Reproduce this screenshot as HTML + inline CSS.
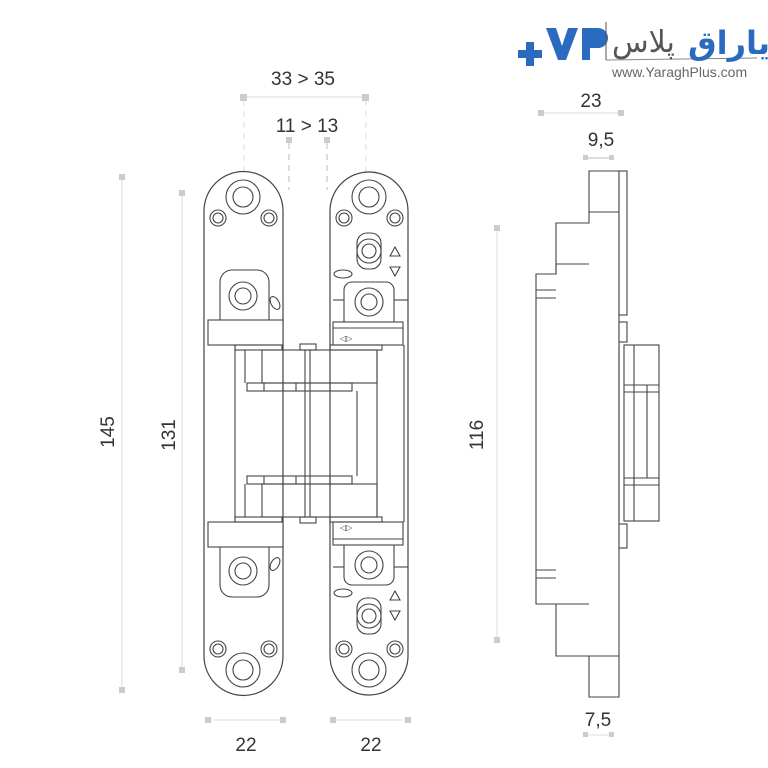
<!DOCTYPE html>
<html><head><meta charset="utf-8"><style>
html,body{margin:0;padding:0;background:#fff;}
svg{display:block;}
text{font-family:"Liberation Sans","DejaVu Sans",sans-serif;}
</style></head><body>
<svg width="768" height="768" viewBox="0 0 768 768" xmlns="http://www.w3.org/2000/svg">
<rect width="768" height="768" fill="#fff"/>
<!-- Logo -->
<g>
<path d="M518 50 h8 v-8 h8 v8 h8 v8 h-8 v8 h-8 v-8 h-8z" fill="#2a6bbf"/>
<path d="M546 28 l10 0 l6 18 l6 -18 l10 0 l-12 32 h-8z" fill="#2a6bbf"/>
<path d="M582 28 h16 a10 10 0 0 1 0 20 h-8 v12 h-8z" fill="#2a6bbf"/>
<line x1="606" y1="22" x2="606" y2="60" stroke="#555" stroke-width="1"/>
<line x1="606" y1="60" x2="757" y2="58" stroke="#888" stroke-width="1"/>
<text x="612" y="52" font-size="30" fill="#555" font-family="'DejaVu Sans',sans-serif">پلاس</text>
<text x="688" y="54" font-size="32" fill="#2a6bbf" font-weight="bold" font-family="'DejaVu Sans',sans-serif">یاراق</text>
<text x="612" y="77" font-size="14" fill="#666">www.YaraghPlus.com</text>
</g>
<!-- dimensions -->
<g fill="#333" font-size="19">
<text x="303" y="85" text-anchor="middle">33 &gt; 35</text>
<text x="307" y="132" text-anchor="middle">11 &gt; 13</text>
<text x="246" y="751" text-anchor="middle">22</text>
<text x="371" y="751" text-anchor="middle">22</text>
<text x="591" y="107" text-anchor="middle">23</text>
<text x="601" y="146" text-anchor="middle">9,5</text>
<text x="598" y="726" text-anchor="middle">7,5</text>
<text transform="translate(114,432) rotate(-90)" text-anchor="middle">145</text>
<text transform="translate(175,435) rotate(-90)" text-anchor="middle">131</text>
<text transform="translate(483,435) rotate(-90)" text-anchor="middle">116</text>
</g>
<g stroke="#ddd" stroke-width="1" fill="none">
<line x1="244" y1="97" x2="366" y2="97"/>
<line x1="244" y1="100" x2="244" y2="172" stroke-dasharray="6 5"/>
<line x1="366" y1="100" x2="366" y2="172" stroke-dasharray="6 5"/>
<line x1="289" y1="143" x2="289" y2="190" stroke-dasharray="6 5" stroke="#bbb"/>
<line x1="327" y1="143" x2="327" y2="190" stroke-dasharray="6 5" stroke="#bbb"/>
<line x1="122" y1="177" x2="122" y2="690"/>
<line x1="182" y1="193" x2="182" y2="670"/>
<line x1="497" y1="228" x2="497" y2="640"/>
<line x1="208" y1="720" x2="283" y2="720"/>
<line x1="333" y1="720" x2="408" y2="720"/>
<line x1="541" y1="113" x2="621" y2="113"/>
<line x1="585" y1="158" x2="612" y2="158" stroke="#bbb"/>
<line x1="585" y1="735" x2="612" y2="735"/>
</g>
<g fill="#ccc">
<rect x="240" y="94" width="7" height="7"/><rect x="362" y="94" width="7" height="7"/>
<rect x="286" y="137" width="6" height="6"/><rect x="324" y="137" width="6" height="6"/>
<rect x="119" y="174" width="6" height="6"/><rect x="119" y="687" width="6" height="6"/>
<rect x="179" y="190" width="6" height="6"/><rect x="179" y="667" width="6" height="6"/>
<rect x="494" y="225" width="6" height="6"/><rect x="494" y="637" width="6" height="6"/>
<rect x="205" y="717" width="6" height="6"/><rect x="280" y="717" width="6" height="6"/>
<rect x="330" y="717" width="6" height="6"/><rect x="405" y="717" width="6" height="6"/>
<rect x="538" y="110" width="6" height="6"/><rect x="618" y="110" width="6" height="6"/>
<rect x="583" y="155" width="5" height="5"/><rect x="609" y="155" width="5" height="5"/>
<rect x="583" y="732" width="5" height="5"/><rect x="609" y="732" width="5" height="5"/>
</g>
<!-- hinges -->
<g stroke="#444" stroke-width="1.2" fill="#fff">
<path d="M204 211 a39.5 39.5 0 0 1 79 0 V656 a39.5 39.5 0 0 1 -79 0z"/>
<path d="M330 211 a39 39 0 0 1 78 0 V656 a39 39 0 0 1 -78 0z"/>
</g>
<g id="half" stroke="#444" stroke-width="1.1" fill="none">
<circle cx="243" cy="197" r="17"/><circle cx="243" cy="197" r="10"/>
<circle cx="218" cy="218" r="8"/><circle cx="218" cy="218" r="5"/>
<circle cx="269" cy="218" r="8"/><circle cx="269" cy="218" r="5"/>
<circle cx="369" cy="197" r="17"/><circle cx="369" cy="197" r="10"/>
<circle cx="344" cy="218" r="8"/><circle cx="344" cy="218" r="5"/>
<circle cx="395" cy="218" r="8"/><circle cx="395" cy="218" r="5"/>
<path d="M220 320 V282 a12 12 0 0 1 12 -12 h25 a12 12 0 0 1 12 12 V320" fill="#fff"/>
<circle cx="243" cy="296" r="14"/><circle cx="243" cy="296" r="8"/>
<ellipse cx="275" cy="303" rx="4" ry="7" transform="rotate(-30 275 303)"/>
<rect x="208" y="320" width="75" height="25" fill="#fff"/>
<rect x="357" y="233" width="24" height="36" rx="10"/>
<circle cx="369" cy="251" r="12"/><circle cx="369" cy="251" r="7"/>
<path d="M390 256 l5 -9 l5 9z M390 267 l5 9 l5 -9z"/>
<ellipse cx="343" cy="274" rx="9" ry="4"/>
<path d="M344 322 V290 a8 8 0 0 1 8 -8 h34 a8 8 0 0 1 8 8 V322" fill="#fff"/>
<line x1="333" y1="300" x2="344" y2="300"/><line x1="394" y1="300" x2="408" y2="300"/>
<circle cx="369" cy="302" r="14"/><circle cx="369" cy="302" r="8"/>
<rect x="333" y="322" width="70" height="23" fill="#fff"/>
<line x1="333" y1="328" x2="403" y2="328"/>
<text x="340" y="341" font-size="8" fill="#444" stroke="none">◁▷</text>
<rect x="235" y="345" width="47" height="5"/><rect x="300" y="344" width="16" height="6"/><rect x="330" y="345" width="52" height="5"/>
<rect x="262" y="350" width="115" height="33"/>
<rect x="247" y="383" width="105" height="8"/>
<line x1="245" y1="350" x2="245" y2="383"/>
<line x1="264" y1="383" x2="264" y2="391"/><line x1="283" y1="383" x2="283" y2="391"/><line x1="296" y1="383" x2="296" y2="391"/><line x1="330" y1="383" x2="330" y2="391"/>
</g>
<use href="#half" transform="translate(0,867) scale(1,-1)"/>
<g stroke="#444" stroke-width="1.1" fill="none">
<line x1="235" y1="345" x2="235" y2="522"/>
<line x1="305" y1="350" x2="305" y2="517"/><line x1="310" y1="350" x2="310" y2="517"/>
<line x1="357" y1="391" x2="357" y2="476"/>
<line x1="377" y1="350" x2="377" y2="517"/>
<line x1="404" y1="345" x2="404" y2="522"/>
</g>
<!-- side view -->
<g stroke="#444" stroke-width="1.1" fill="#fff">
<path d="M589 171 H619 V697 H589 V656 H556 V604 H536 V274 H556 V223 H589z"/>
<line x1="589" y1="212" x2="619" y2="212" fill="none"/>
<line x1="589" y1="656" x2="619" y2="656" fill="none"/>
<line x1="556" y1="264" x2="589" y2="264" fill="none"/>
<line x1="556" y1="604" x2="589" y2="604" fill="none"/>
<line x1="556" y1="264" x2="556" y2="274" fill="none"/>
<line x1="536" y1="298" x2="556" y2="298" fill="none"/>
<line x1="536" y1="290" x2="556" y2="290" fill="none"/>
<line x1="536" y1="570" x2="556" y2="570" fill="none"/>
<line x1="536" y1="578" x2="556" y2="578" fill="none"/>
<rect x="619" y="171" width="8" height="144"/>
<rect x="619" y="322" width="8" height="20"/>
<rect x="619" y="524" width="8" height="24"/>
<rect x="624" y="345" width="35" height="176"/>
<line x1="634" y1="345" x2="634" y2="521"/><line x1="647" y1="385" x2="647" y2="478"/>
<line x1="624" y1="385" x2="659" y2="385"/><line x1="624" y1="392" x2="659" y2="392"/>
<line x1="624" y1="478" x2="659" y2="478"/><line x1="624" y1="485" x2="659" y2="485"/>
<line x1="619" y1="345" x2="619" y2="521"/>
</g>
</svg>
</body></html>
